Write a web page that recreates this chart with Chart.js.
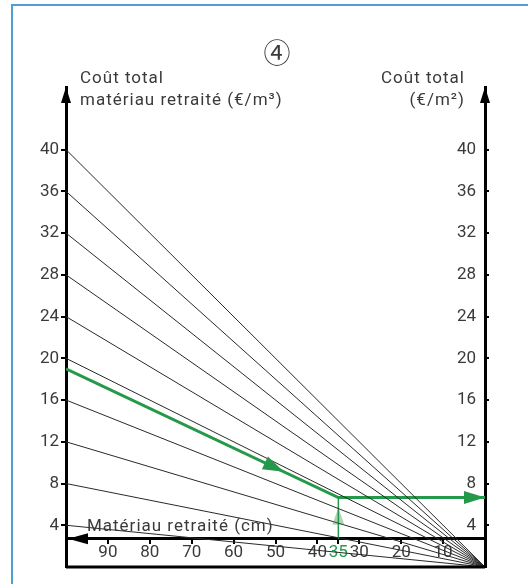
<!DOCTYPE html>
<html>
<head>
<meta charset="utf-8">
<script src="https://cdn.jsdelivr.net/npm/chart.js@4/dist/chart.umd.min.js"></script>
<style>
  html, body { margin: 0; padding: 0; background: #fff; }
  #wrap { width: 528px; height: 584px; }
</style>
</head>
<body>
<div id="wrap"><canvas id="chart" width="528" height="584"></canvas></div>
<script>
// cost per m3 (left axis) for each guide line, all meeting at 0 cm / 0 €
const costLines = [4, 8, 12, 16, 20, 24, 28, 32, 36, 40]
// green worked example: [thickness cm, cost]
const greenPath = [[100, 19], [35, 6.65], [0, 6.65]]
const greenThickness = 35
const greenCostM2 = 6.65
const greenArrowAt = 48   // thickness where the mid arrow tip sits

const yTicks = [4, 8, 12, 16, 20, 24, 28, 32, 36, 40]
const xTicks = [90, 80, 70, 60, 50, 40, 35, 30, 20, 10]
const cmAxisAt = 2.7      // height of the thickness axis on the cost scale

const GREEN = '#24994a'
const TEXT = '#3a3a3a'
const FONT = 'Roboto, "DejaVu Sans", sans-serif'

const datasets = costLines.map(v => ({
    data: [{x: 100, y: v}, {x: 0, y: 0}],
    borderColor: '#2a2a2a',
    borderWidth: 1,
    pointRadius: 0
}))
datasets.push({
    data: [{x: greenThickness, y: cmAxisAt}, {x: greenThickness, y: greenCostM2}],
    borderColor: GREEN,
    borderWidth: 1.5,
    pointRadius: 0
})
datasets.push({
    data: greenPath.map(p => ({x: p[0], y: p[1]})),
    borderColor: GREEN,
    borderWidth: 3,
    pointRadius: 0
})

function arrow(ctx, tx, ty, dx, dy, len, half, color) {
    const l = Math.hypot(dx, dy)
    const ux = dx / l, uy = dy / l
    const bx = tx - ux * len, by = ty - uy * len
    ctx.beginPath()
    ctx.moveTo(tx, ty)
    ctx.lineTo(bx - uy * half, by + ux * half)
    ctx.lineTo(bx + uy * half, by - ux * half)
    ctx.closePath()
    ctx.fillStyle = color
    ctx.fill()
}

const decor = {
    id: 'decor',
    beforeDraw(chart) {
        const ctx = chart.ctx
        ctx.save()
        ctx.strokeStyle = '#4d9fd6'
        ctx.lineWidth = 2
        ctx.beginPath()
        ctx.moveTo(12, 584)
        ctx.lineTo(12, 5)
        ctx.lineTo(528, 5)
        ctx.stroke()
        ctx.restore()
    },
    afterDraw(chart) {
        const ctx = chart.ctx
        const xs = chart.scales.x, ys = chart.scales.y
        const X = v => xs.getPixelForValue(v)
        const Y = v => ys.getPixelForValue(v)
        const area = chart.chartArea
        ctx.save()

        // bottom frame line
        ctx.strokeStyle = '#000'
        ctx.lineWidth = 3
        ctx.beginPath()
        ctx.moveTo(area.left, Y(0))
        ctx.lineTo(area.right, Y(0))
        ctx.stroke()

        // axis arrows
        arrow(ctx, area.left, area.top, 0, -1, 16, 5, '#000')
        arrow(ctx, area.right, area.top, 0, -1, 16, 5, '#000')
        arrow(ctx, area.left + 2, Y(cmAxisAt), -1, 0, 20, 5.5, '#000')

        // green arrows
        const p0 = greenPath[0], p1 = greenPath[1]
        const ay = p0[1] + (p1[1] - p0[1]) * (greenArrowAt - p0[0]) / (p1[0] - p0[0])
        arrow(ctx, X(greenArrowAt), Y(ay), X(p1[0]) - X(p0[0]), Y(p1[1]) - Y(p0[1]), 21, 7, GREEN)
        arrow(ctx, X(0), Y(greenCostM2), 1, 0, 21, 6.5, GREEN)
        arrow(ctx, X(greenThickness), Y(cmAxisAt) - 31, 0, -1, 17, 6, 'rgba(40,140,60,0.38)')

        // texts
        ctx.fillStyle = TEXT
        ctx.font = '17px ' + FONT
        ctx.letterSpacing = '1px'
        ctx.textBaseline = 'middle'
        ctx.textAlign = 'left'
        ctx.fillText('Coût total', area.left + 14, 79)
        ctx.fillText('matériau retraité (€/m³)', area.left + 14, 101)
        ctx.fillText('Matériau retraité (cm)', X(95), Y(cmAxisAt) - 12)
        ctx.textAlign = 'right'
        ctx.fillText('Coût total', area.right - 20, 79)
        ctx.fillText('(€/m²)', area.right - 20, 101)

        ctx.letterSpacing = '0px'
        ctx.textAlign = 'center'
        ctx.font = '27px "Noto Sans CJK SC", "DejaVu Sans", sans-serif'
        ctx.fillText('④', 277, 53)
        ctx.restore()
    }
}

const tickFont = { family: FONT, size: 17 }

new Chart(document.getElementById('chart'), {
    type: 'line',
    data: { datasets: datasets },
    options: {
        animation: false,
        responsive: false,
        layout: { padding: { top: 87, bottom: 17, left: 0, right: 0 } },
        plugins: { legend: { display: false }, tooltip: { enabled: false } },
        elements: { line: { tension: 0 } },
        scales: {
            x: {
                type: 'linear',
                reverse: true,
                min: 0,
                max: 100,
                position: { y: cmAxisAt },
                afterBuildTicks: s => { s.ticks = xTicks.map(v => ({value: v})) },
                ticks: {
                    autoSkip: false,
                    maxRotation: 0,
                    minRotation: 0,
                    padding: 0,
                    font: tickFont,
                    color: c => c.tick && c.tick.value === greenThickness ? GREEN : TEXT
                },
                grid: { drawOnChartArea: false, tickLength: 4, color: '#000', lineWidth: 2 },
                border: { color: '#000', width: 3 }
            },
            y: {
                type: 'linear',
                position: 'left',
                min: 0,
                max: 46,
                afterBuildTicks: s => { s.ticks = yTicks.map(v => ({value: v})) },
                afterFit: s => { s.width = 66 },
                ticks: { font: tickFont, color: TEXT, padding: 2 },
                grid: { drawOnChartArea: false, tickLength: 5, color: '#000', lineWidth: 2 },
                border: { color: '#000', width: 3 }
            },
            y2: {
                type: 'linear',
                position: 'right',
                min: 0,
                max: 46,
                afterBuildTicks: s => { s.ticks = yTicks.map(v => ({value: v})) },
                afterFit: s => { s.width = 43 },
                ticks: { font: tickFont, color: TEXT, mirror: true, padding: -9 },
                grid: { drawOnChartArea: false, tickLength: 4, color: '#000', lineWidth: 2 },
                border: { color: '#000', width: 3 }
            }
        }
    },
    plugins: [decor]
})
</script>
</body>
</html>
